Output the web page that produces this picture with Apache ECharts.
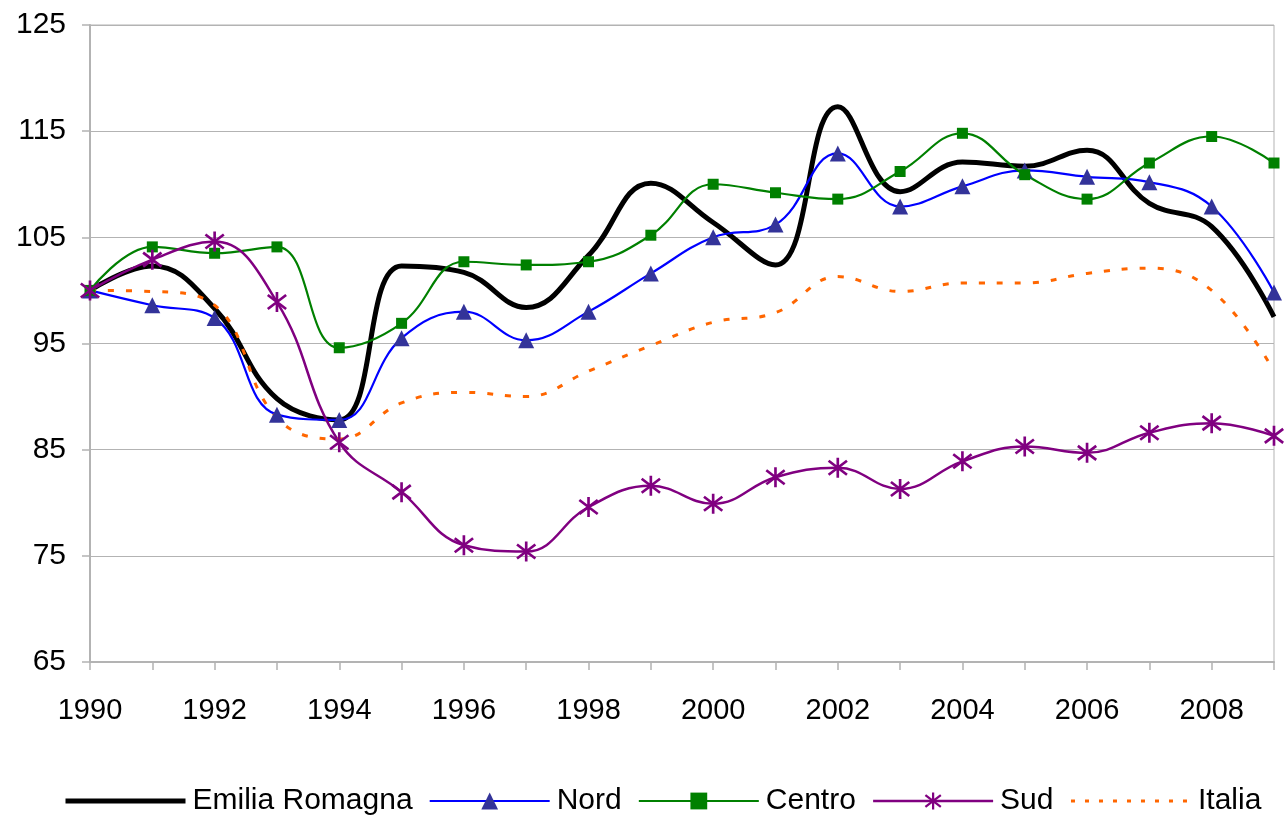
<!DOCTYPE html>
<html>
<head>
<meta charset="utf-8">
<script src="https://cdn.jsdelivr.net/npm/echarts@6/dist/echarts.min.js"></script>
<style>
html, body { margin: 0; padding: 0; background: #fff; }
#chart { width: 1284px; height: 819px; }
</style>
</head>
<body>
<div id="chart"></div>
<script>
const years = ['1990', '1991', '1992', '1993', '1994', '1995', '1996', '1997', '1998', '1999',
    '2000', '2001', '2002', '2003', '2004', '2005', '2006', '2007', '2008', '2009'];
const yTicks = [65, 75, 85, 95, 105, 115, 125];

const emilia = [100, 102.3, 98.3, 89.8, 87.8, 102.3, 101.7, 98.4, 103.3, 110.1,
    106.4, 102.4, 117.3, 109.3, 112.1, 111.7, 113.2, 108.2, 106.0, 97.5];
const nord = [100, 98.6, 97.4, 88.3, 87.8, 95.5, 98.0, 95.3, 98.0, 101.6,
    105.0, 106.2, 112.9, 107.9, 109.8, 111.3, 110.7, 110.2, 107.9, 99.8];
const centro = [100, 104.1, 103.5, 104.1, 94.6, 96.9, 102.7, 102.4, 102.7, 105.2,
    110.0, 109.2, 108.6, 111.2, 114.8, 110.9, 108.6, 112.0, 114.5, 112.0];
const sud = [100, 102.9, 104.6, 98.9, 85.7, 81.0, 76.0, 75.4, 79.6, 81.6,
    79.9, 82.4, 83.3, 81.3, 83.9, 85.3, 84.7, 86.6, 87.5, 86.3];
const italia = [100, 99.9, 98.6, 88.0, 86.0, 89.4, 90.4, 90.0, 92.4, 94.8,
    97.0, 97.9, 101.3, 99.9, 100.7, 100.7, 101.6, 102.1, 100.0, 92.4];

// asterisco come in excel: barra verticale + X
const starPath = 'path://M8.7 0L11.3 0L11.3 20L8.7 20Z' +
    'M1.798 1.974L19.798 15.974L18.202 18.026L0.202 4.026Z' +
    'M18.202 1.974L19.798 4.026L1.798 18.026L0.202 15.974Z';

const font = 'Liberation Sans, Arial, sans-serif';
const gray = '#b3b3b3';
const noMarker = { color: 'rgba(0,0,0,0)', borderColor: 'rgba(0,0,0,0)', borderWidth: 0 };

function makeLine(name, data, color, width, symbol, symbolSize, symbolColor, type) {
    return {
        name: name,
        type: 'line',
        data: data,
        smooth: 0.42,
        symbol: symbol,
        symbolSize: symbolSize,
        showSymbol: symbol !== 'none',
        itemStyle: { color: symbolColor || color },
        lineStyle: { color: color, width: width, type: type || 'solid' },
        emphasis: { disabled: true },
        animation: false
    };
}

const myChart = echarts.init(document.getElementById('chart'));
const option = {
    backgroundColor: '#fff',
    textStyle: { fontFamily: font },
    grid: {
        left: 90, right: 10, top: 25, bottom: 157,
        show: true, borderColor: gray, borderWidth: 1
    },
    legend: {
        left: 58,
        top: 781,
        itemWidth: 120,
        itemHeight: 21,
        itemGap: 16,
        lineStyle: { width: 'inherit' },
        textStyle: { fontSize: 30, color: '#000', fontFamily: font, padding: [0, 0, 0, 2] },
        data: [
            { name: 'Emilia Romagna', itemStyle: noMarker },
            'Nord', 'Centro', 'Sud',
            { name: 'Italia', itemStyle: noMarker, lineStyle: { type: [4, 10] } }
        ]
    },
    xAxis: {
        type: 'category',
        data: years,
        boundaryGap: false,
        axisLine: { lineStyle: { color: gray, width: 2 } },
        axisTick: { show: true, interval: 0, length: 8, lineStyle: { color: gray, width: 1.5 } },
        axisLabel: { interval: 1, color: '#000', fontSize: 29, fontFamily: font, margin: 34 },
        splitLine: { show: false }
    },
    yAxis: {
        type: 'value',
        min: 65,
        max: 125,
        interval: 5,
        axisLine: { show: true, lineStyle: { color: gray, width: 2 } },
        axisTick: { show: true, length: 8, customValues: yTicks, lineStyle: { color: gray, width: 1.5 } },
        axisLabel: {
            customValues: yTicks,
            color: '#000', fontSize: 30, fontFamily: font, margin: 24,
            formatter: function (v) { return yTicks.indexOf(v) >= 0 ? String(v) : ''; }
        },
        splitLine: { show: true, lineStyle: { color: gray, width: 1 } }
    },
    series: [
        makeLine('Emilia Romagna', emilia, '#000000', 5, 'none', 0),
        makeLine('Nord', nord, '#0000ff', 2.2, 'triangle', 16, '#333399'),
        makeLine('Centro', centro, '#008000', 2.2, 'rect', 11, '#008000'),
        makeLine('Sud', sud, '#800080', 2.5, starPath, 20, '#800080'),
        makeLine('Italia', italia, '#ff6600', 3, 'none', 0, null, [6, 12])
    ]
};
myChart.setOption(option);
window.addEventListener('resize', () => {
    myChart.resize();
});
</script>
</body>
</html>
